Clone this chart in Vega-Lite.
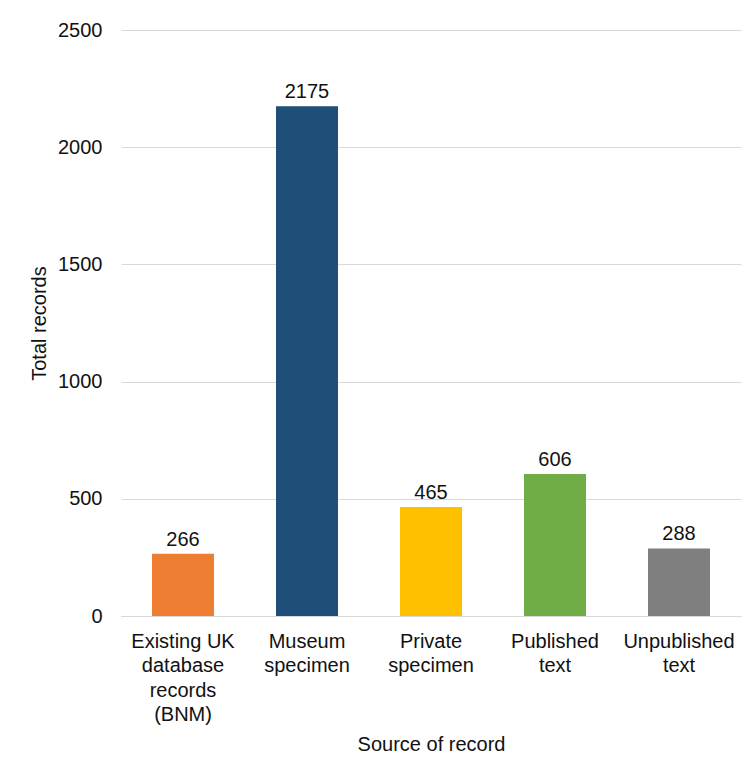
{
  "$schema": "https://vega.github.io/schema/vega-lite/v6.json",
  "autosize": {"type": "none"},
  "width": 620,
  "height": 586,
  "padding": {"left": 121, "top": 30, "right": 9, "bottom": 149},
  "background": "white",
  "config": {
    "view": {"stroke": null},
    "font": "Liberation Sans",
    "axis": {"labelFont": "Liberation Sans", "titleFont": "Liberation Sans", "labelColor": "#111", "titleColor": "#111", "titleFontWeight": "normal", "labelFontSize": 20, "titleFontSize": 20}
  },
  "data": {
    "values": [
      {"source": "Existing UK database records (BNM)", "records": 266},
      {"source": "Museum specimen", "records": 2175},
      {"source": "Private specimen", "records": 465},
      {"source": "Published text", "records": 606},
      {"source": "Unpublished text", "records": 288}
    ]
  },
  "encoding": {
    "x": {
      "field": "source", "type": "nominal", "sort": null,
      "scale": {"paddingInner": 0.5, "paddingOuter": 0.25},
      "axis": {
        "title": "Source of record", "labelAngle": 0, "domain": true, "domainColor": "#d9d9d9", "ticks": false,
        "labelPadding": 15, "titlePadding": 10, "labelLineHeight": 24.5,
        "labelExpr": "datum.value == 'Existing UK database records (BNM)' ? ['Existing UK', 'database', 'records', '(BNM)'] : split(datum.value, ' ')"
      }
    },
    "y": {
      "field": "records", "type": "quantitative",
      "scale": {"domain": [0, 2500]},
      "axis": {"title": "Total records", "format": "d", "values": [0, 500, 1000, 1500, 2000, 2500], "domain": false, "ticks": false, "gridColor": "#d9d9d9", "labelPadding": 19, "titlePadding": 8}
    }
  },
  "layer": [
    {
      "mark": {"type": "bar"},
      "encoding": {
        "color": {
          "field": "source", "type": "nominal", "legend": null,
          "scale": {"domain": ["Existing UK database records (BNM)", "Museum specimen", "Private specimen", "Published text", "Unpublished text"], "range": ["#ED7D31", "#1F4E79", "#FFC000", "#70AD47", "#7F7F7F"]}
        }
      }
    },
    {
      "mark": {"type": "text", "fontSize": 20, "color": "#111", "baseline": "alphabetic", "dy": -8},
      "encoding": {"text": {"field": "records", "type": "quantitative"}}
    }
  ]
}
